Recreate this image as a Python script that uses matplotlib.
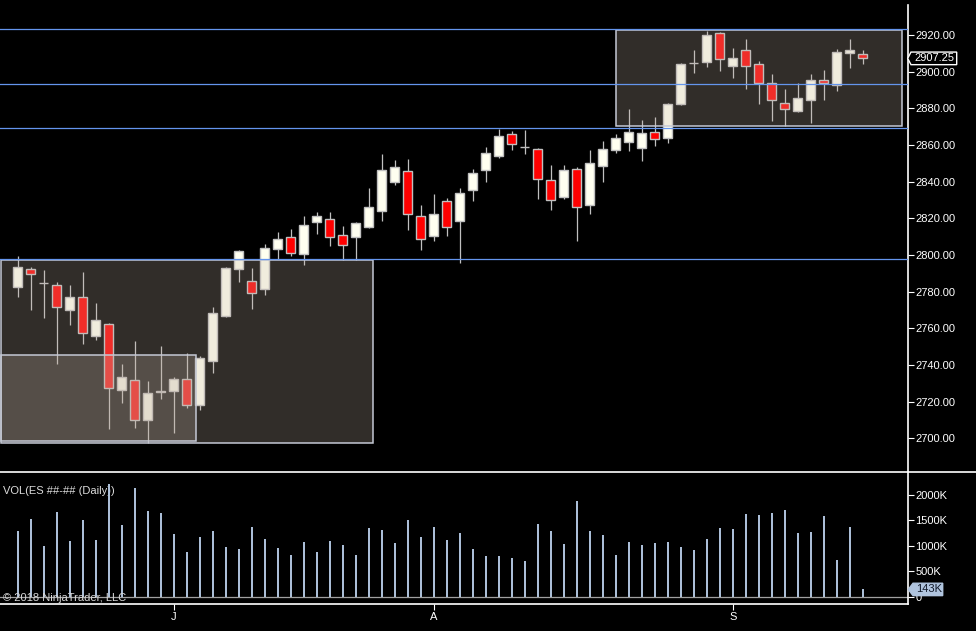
import numpy as np
import matplotlib
matplotlib.use("Agg")
import matplotlib.pyplot as plt
from matplotlib.patches import Rectangle, Polygon
from matplotlib.lines import Line2D
from matplotlib.transforms import IdentityTransform

plt.rcParams['font.family'] = ['Liberation Sans', 'DejaVu Sans']

# ---------------- data ----------------
opens = [2782.7, 2792.2, 2784.9, 2783.4, 2770.2, 2776.9, 2755.6, 2762.2, 2726.5, 2731.6,
         2709.8, 2725.5, 2725.6, 2732.2, 2718.0, 2742.0, 2766.9, 2792.5, 2785.6, 2781.6,
         2803.4, 2809.6, 2800.7, 2818.1, 2819.4, 2810.7, 2810.0, 2815.2, 2824.1, 2840.0,
         2845.6, 2821.1, 2810.5, 2829.2, 2818.7, 2835.6, 2846.5, 2854.1, 2865.8, 2858.7,
         2857.6, 2840.7, 2831.8, 2846.7, 2827.4, 2848.7, 2857.1, 2861.8, 2858.2, 2866.9,
         2863.7, 2882.6, 2904.6, 2905.5, 2920.9, 2903.3, 2911.7, 2904.0, 2893.7, 2882.9,
         2878.7, 2884.7, 2895.3, 2892.6, 2910.0, 2909.7]
highs = [2799.4, 2793.2, 2791.8, 2785.1, 2783.6, 2790.7, 2773.8, 2762.7, 2740.5, 2753.1,
         2731.2, 2750.3, 2733.4, 2746.5, 2744.9, 2771.6, 2793.6, 2802.7, 2792.9, 2806.0,
         2812.5, 2814.1, 2821.2, 2823.4, 2823.4, 2815.8, 2818.0, 2836.5, 2855.1, 2851.8,
         2852.3, 2827.2, 2833.2, 2830.9, 2836.5, 2846.9, 2858.9, 2868.7, 2867.6, 2868.1,
         2858.3, 2849.1, 2849.1, 2848.1, 2857.2, 2862.1, 2866.0, 2879.7, 2873.7, 2875.3,
         2882.9, 2904.7, 2911.8, 2922.2, 2921.5, 2912.9, 2917.8, 2905.8, 2898.7, 2890.6,
         2893.8, 2898.7, 2900.9, 2912.4, 2917.8, 2911.8]
lows = [2777.2, 2770.0, 2765.6, 2740.7, 2761.8, 2751.6, 2753.8, 2705.2, 2719.4, 2705.8,
        2697.6, 2721.6, 2703.1, 2716.7, 2715.6, 2735.8, 2766.3, 2785.2, 2770.7, 2778.3,
        2797.6, 2799.6, 2794.7, 2811.6, 2804.9, 2797.2, 2797.2, 2814.7, 2818.7, 2838.2,
        2813.6, 2802.7, 2807.6, 2810.3, 2795.8, 2829.4, 2839.8, 2853.1, 2857.2, 2855.1,
        2830.5, 2824.5, 2830.5, 2807.8, 2822.3, 2839.8, 2855.5, 2856.9, 2851.5, 2859.5,
        2861.3, 2882.0, 2899.5, 2902.7, 2900.6, 2896.7, 2890.7, 2882.4, 2873.3, 2870.4,
        2878.2, 2872.2, 2884.6, 2889.7, 2902.2, 2904.4]
closes = [2793.2, 2789.4, 2784.9, 2771.4, 2776.9, 2757.2, 2764.3, 2727.2, 2733.2, 2709.8,
          2724.5, 2726.0, 2732.2, 2718.0, 2743.6, 2768.2, 2792.7, 2802.0, 2779.1, 2803.8,
          2808.5, 2801.2, 2816.1, 2821.1, 2810.0, 2805.6, 2817.2, 2826.0, 2846.1, 2847.8,
          2822.5, 2808.5, 2822.1, 2815.4, 2833.6, 2844.5, 2855.4, 2864.7, 2860.3, 2858.7,
          2841.6, 2830.2, 2846.1, 2826.3, 2850.0, 2857.6, 2863.8, 2866.9, 2866.4, 2863.1,
          2882.2, 2904.0, 2904.6, 2919.8, 2907.1, 2907.3, 2903.3, 2893.7, 2884.4, 2879.8,
          2885.5, 2895.3, 2893.7, 2910.6, 2911.7, 2907.25]
volumes_k = [1291, 1527, 996, 1665, 1095, 1508, 1114, 2216, 1409, 2137,
             1685, 1645, 1232, 878, 1173, 1291, 977, 937, 1370, 1134,
             957, 819, 1075, 878, 1095, 1016, 819, 1350, 1311, 1055,
             1508, 1173, 1370, 1114, 1252, 937, 800, 800, 760, 701,
             1429, 1291, 1036, 1881, 1291, 1213, 819, 1075, 1016, 1055,
             1075, 977, 918, 1134, 1350, 1331, 1626, 1606, 1645, 1704,
             1252, 1272, 1586, 721, 1370, 143]

month_tick_index = [12, 32, 55]
month_tick_labels = ["J", "A", "S"]

price_ticks = list(range(2700, 2921, 20))
vol_ticks = [0, 500, 1000, 1500, 2000]
vol_tick_labels = ["0", "500K", "1000K", "1500K", "2000K"]

h_levels = [2923.1, 2893.1, 2869.3, 2797.6]
# zones: (x_start, x_end, price_low, price_high)
zone_top = (46.05, 68.0, 2870.2, 2922.6)
zone_left = (-1.3, 27.3, 2697.2, 2797.3)
zone_inner = (-1.3, 13.7, 2698.3, 2745.3)

last_price_label = "2907.25"
last_vol_label = "143K"

# ---------------- figure ----------------
W, H = 976, 631
fig = plt.figure(figsize=(W / 100, H / 100), dpi=100, facecolor='black')

ax_p = fig.add_axes([0, 1 - 472 / H, 907.5 / W, (472 - 5) / H], facecolor='black')
ax_v = fig.add_axes([0, 1 - 604 / H, 907.5 / W, (604 - 472) / H], facecolor='black')

x = np.arange(len(opens))
o = np.array(opens); c = np.array(closes)
hi = np.array(highs); lo = np.array(lows)
vol = np.array(volumes_k)

xlim = (-17.7 / 13, (907.5 - 17.7) / 13)
for a in (ax_p, ax_v):
    a.set_xlim(*xlim)
ax_p.set_ylim(2920 - 437 / 1.833, 2920 + 30 / 1.833)
ax_v.set_ylim(-143.6, 2452.3)

# candles
wick_col = '#C0C0C0'
ax_p.vlines(x, lo, hi, color=wick_col, lw=0.9, zorder=2)
fills = np.where(c > o, '#FFFFF0', np.where(c < o, '#FF0000', '#C0C0C0'))
ax_p.bar(x, np.abs(c - o), bottom=np.minimum(o, c), width=0.68, color=fills,
         edgecolor=wick_col, linewidth=1.0, zorder=3)

# zones (semi transparent overlays)
zone_face = (196 / 255, 180 / 255, 165 / 255, 0.25)
for (x0, x1, p0, p1) in (zone_left, zone_inner, zone_top):
    ax_p.add_patch(Rectangle((x0, p0), x1 - x0, p1 - p0, facecolor=zone_face,
                             edgecolor='#C4C8D4', linewidth=1.1, zorder=4))

# horizontal levels
for lv in h_levels:
    ax_p.axhline(lv, color='#6495ED', lw=0.9, zorder=5)

# price axis styling
for s in ('top', 'bottom', 'left'):
    ax_p.spines[s].set_visible(False)
ax_p.spines['right'].set_color('white')
ax_p.spines['right'].set_linewidth(1.2)
ax_p.yaxis.tick_right()
ax_p.set_yticks(price_ticks)
ax_p.set_yticklabels([f"{t:.2f}" for t in price_ticks])
ax_p.tick_params(axis='y', colors='white', length=4.3, width=0.8, pad=1.5,
                 labelsize=8)
ax_p.set_xticks([])

# volume
ax_v.axhline(0, color='#A0A0A0', lw=0.9, zorder=1)
ax_v.vlines(x, 0, vol, color='#B0C4DE', lw=1.4, zorder=3)
for s in ('top', 'left'):
    ax_v.spines[s].set_visible(False)
for s in ('right', 'bottom'):
    ax_v.spines[s].set_color('white')
    ax_v.spines[s].set_linewidth(1.2)
ax_v.yaxis.tick_right()
ax_v.set_yticks(vol_ticks)
ax_v.set_yticklabels(vol_tick_labels)
ax_v.tick_params(axis='y', colors='white', length=4.3, width=0.8, pad=1.5,
                 labelsize=8)
ax_v.set_xticks(month_tick_index)
ax_v.set_xticklabels(month_tick_labels)
ax_v.tick_params(axis='x', colors='white', length=4.3, width=0.8, pad=1.5,
                 labelsize=8)

ax_v.text(3 / 907.5, (604 - 490.7) / 132, "VOL(ES ##-## (Daily))", transform=ax_v.transAxes,
          color='#DCDCDC', fontsize=8, va='center', ha='left', zorder=2)
ax_v.text(2.7 / 907.5, (604 - 598.3) / 132, "© 2018 NinjaTrader, LLC", transform=ax_v.transAxes,
          color='#D8D8D8', fontsize=8, va='center', ha='left', zorder=4)

# separator line between panels
fig.add_artist(Line2D([0, 1], [1 - 472.3 / H] * 2, transform=fig.transFigure,
                      color='white', lw=1.2))

# price markers (display pixel coords)
def marker(ax, value, text, tip_x, box_x0, box_x1, half_h, face, edge, tcol):
    yc = ax.transData.transform((0, value))[1]
    pts = [(tip_x, yc), (box_x0, yc + half_h), (box_x1, yc + half_h),
           (box_x1, yc - half_h), (box_x0, yc - half_h)]
    poly = Polygon(pts, closed=True, facecolor=face, edgecolor=edge, lw=1.0,
                   transform=IdentityTransform(), zorder=10)
    fig.add_artist(poly)
    fig.text(box_x0 + 3 / W * 0 + 0, 0, "")  # placeholder no-op
    t = plt.Text(box_x0 + 3, yc, text, color=tcol, fontsize=8, va='center', ha='left',
                 transform=IdentityTransform(), zorder=11)
    fig.add_artist(t)

marker(ax_p, closes[-1], last_price_label, 907.7, 911, 956.7, 6.3, 'black', 'white', 'white')
marker(ax_v, volumes_k[-1], last_vol_label, 908.3, 913, 942.7, 6.2, '#B0C4DE', '#B0C4DE', '#101828')

fig.savefig("out.png", dpi=100, facecolor='black')
